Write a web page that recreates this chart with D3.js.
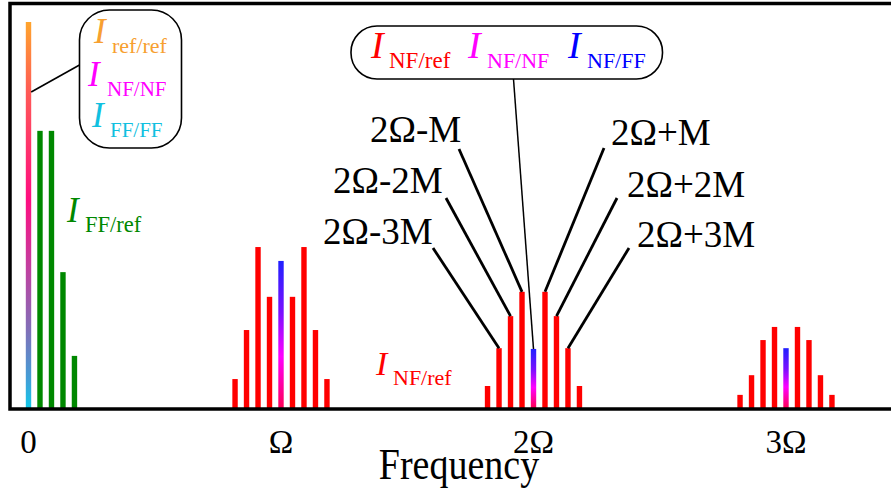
<!DOCTYPE html>
<html>
<head>
<meta charset="utf-8">
<script src="https://cdn.jsdelivr.net/npm/d3@7"></script>
<style>
  body { margin: 0; background: #fff; }
  svg text { font-family: "Liberation Serif", Times, "Times New Roman", "DejaVu Serif", serif; }
</style>
</head>
<body>
<svg width="891" height="499"></svg>
<script>
// harmonics of the modulation frequency (units of Omega)
var harmonics = [1, 2, 3];
// sideband spacing M, in units of Omega
var M = 0.0455;
var orders = [-4, -3, -2, -1, 0, 1, 2, 3, 4];

// I_NF/ref sidebands around each harmonic (centre = NF/NF + NF/FF)
var nfRef1 = [0.075, 0.202, 0.417, 0.288, 0.381, 0.288, 0.417, 0.202, 0.075];
var nfRef2 = [0.057, 0.155, 0.238, 0.301, 0.153, 0.301, 0.238, 0.155, 0.057];
var nfRef3 = [0.034, 0.085, 0.176, 0.210, 0.155, 0.210, 0.176, 0.085, 0.034];

// DC part
var refDC = 1.0;
var ffOrders = [1, 2, 3, 4];
var ffRef = [0.718, 0.718, 0.352, 0.135];

var tickValues = [0, 1, 2, 3];
var tickLabels = ["0", "\u03A9", "2\u03A9", "3\u03A9"];

var sideOrders = [-3, -2, -1, 1, 2, 3];
var sideLabels = ["2\u03A9-3M", "2\u03A9-2M", "2\u03A9-M", "2\u03A9+M", "2\u03A9+2M", "2\u03A9+3M"];

var serif = "'Liberation Serif', Times, 'Times New Roman', 'DejaVu Serif', serif";

var svg = d3.select("svg");

var x = d3.scaleLinear().domain([0, 3]).range([28.5, 786]);
var y = d3.scaleLinear().domain([0, 1]).range([408, 22]);
var barW = 5.4;

// gradients
var defs = svg.append("defs");
var g1 = defs.append("linearGradient").attr("id", "dcGrad")
    .attr("x1", 0).attr("y1", 0).attr("x2", 0).attr("y2", 1);
[[0, "#ffa52c"], [0.18, "#ff5a55"], [0.46, "#ff0d80"], [0.64, "#c040a0"],
 [0.8, "#8070b8"], [0.93, "#40a0d8"], [1, "#10c8e8"]].forEach(function(s) {
    g1.append("stop").attr("offset", s[0]).attr("stop-color", s[1]);
});
var g2 = defs.append("linearGradient").attr("id", "ctrGrad")
    .attr("x1", 0).attr("y1", 0).attr("x2", 0).attr("y2", 1);
[[0, "#2020ff"], [0.35, "#7a10ff"], [0.65, "#ff00ff"], [1, "#ff0055"]].forEach(function(s) {
    g2.append("stop").attr("offset", s[0]).attr("stop-color", s[1]);
});

// sideband bars
var clusters = [nfRef1, nfRef2, nfRef3];
var barData = [];
clusters.forEach(function(vals, h) {
    orders.forEach(function(k, i) {
        barData.push({ f: harmonics[h] + k * M, v: vals[i], centre: k === 0 });
    });
});

svg.selectAll(".nf").data(barData).enter().append("rect")
    .attr("class", "nf")
    .attr("x", function(d) { return x(d.f) - barW / 2; })
    .attr("y", function(d) { return y(d.v); })
    .attr("width", barW)
    .attr("height", function(d) { return y(0) - y(d.v); })
    .style("fill", function(d) { return d.centre ? "url(#ctrGrad)" : "#ff0000"; });

// DC bar and FF/ref bars
svg.append("rect")
    .attr("x", x(0) - barW / 2).attr("y", y(refDC))
    .attr("width", barW).attr("height", y(0) - y(refDC))
    .style("fill", "url(#dcGrad)");

svg.selectAll(".ff").data(ffOrders).enter().append("rect")
    .attr("class", "ff")
    .attr("x", function(d) { return x(d * M) - barW / 2; })
    .attr("y", function(d, i) { return y(ffRef[i]); })
    .attr("width", barW)
    .attr("height", function(d, i) { return y(0) - y(ffRef[i]); })
    .style("fill", "#008800");

// frame
svg.append("rect")
    .attr("x", 10).attr("y", 3.5).attr("width", 920).attr("height", 405.5)
    .style("fill", "none").style("stroke", "#000").style("stroke-width", 3.5);

// tick labels
svg.selectAll(".tick").data(tickValues).enter().append("text")
    .attr("x", function(d) { return x(d); })
    .attr("y", 453)
    .attr("text-anchor", "middle")
    .style("font-family", serif)
    .style("font-size", "33px")
    .text(function(d, i) { return tickLabels[i]; });

// axis title, a little taller than wide as in the source figure
svg.append("text")
    .attr("transform", "translate(459,479) scale(1,1.15)")
    .attr("text-anchor", "middle")
    .style("font-family", serif)
    .style("font-size", "38px")
    .text("Frequency");

// I with subscript
function ilabel(px, py, sub, subX, color, size, subSize) {
    svg.append("text").attr("x", px).attr("y", py)
        .style("font-family", serif)
        .style("font-size", size + "px").style("font-style", "italic")
        .style("fill", color).text("I");
    svg.append("text").attr("x", subX).attr("y", py + 10)
        .style("font-family", serif)
        .style("font-size", subSize + "px")
        .style("fill", color).text(sub);
}

// left callout
svg.append("rect").attr("x", 79.5).attr("y", 10).attr("width", 102).attr("height", 138)
    .attr("rx", 30).attr("ry", 30)
    .style("fill", "none").style("stroke", "#000").style("stroke-width", 1.6);
svg.append("line").attr("x1", 79.5).attr("y1", 65)
    .attr("x2", x(0) + barW / 2).attr("y2", 92)
    .style("stroke", "#000").style("stroke-width", 1.6);
ilabel(94, 43, "ref/ref", 112, "#f7a030", 35, 22);
ilabel(88, 86, "NF/NF", 107, "#ff00ff", 35, 21);
ilabel(92, 127, "FF/FF", 110, "#10c0e0", 35, 21);

ilabel(67, 222, "FF/ref", 85, "#008800", 35, 22.5);
ilabel(376, 375, "NF/ref", 393, "#ff0000", 34, 22);

// top callout
svg.append("rect").attr("x", 351).attr("y", 26).attr("width", 311.5).attr("height", 53)
    .attr("rx", 26).attr("ry", 26)
    .style("fill", "none").style("stroke", "#000").style("stroke-width", 1.6);
svg.append("line").attr("x1", 513.5).attr("y1", 79)
    .attr("x2", x(2)).attr("y2", y(nfRef2[4]))
    .style("stroke", "#000").style("stroke-width", 1.5);
ilabel(371, 58, "NF/ref", 389, "#ff0000", 38, 23);
ilabel(468, 58, "NF/NF", 487, "#ff00ff", 38, 22);
ilabel(568, 58, "NF/FF", 587, "#0000ff", 38, 22);

// sideband labels and leaders
var labelPos = [[323, 244], [333, 193], [370, 142], [611, 145], [627, 197], [637, 247]];
var leaderStart = [[433, 248], [446, 198], [459, 149], [604, 148], [617, 198], [629, 248]];

svg.selectAll(".sbl").data(sideOrders).enter().append("text")
    .attr("class", "sbl")
    .attr("x", function(d, i) { return labelPos[i][0]; })
    .attr("y", function(d, i) { return labelPos[i][1]; })
    .style("font-family", serif)
    .style("font-size", "37px")
    .text(function(d, i) { return sideLabels[i]; });

svg.selectAll(".sbline").data(sideOrders).enter().append("line")
    .attr("class", "sbline")
    .attr("x1", function(d, i) { return leaderStart[i][0]; })
    .attr("y1", function(d, i) { return leaderStart[i][1]; })
    .attr("x2", function(d) { return x(2 + d * M); })
    .attr("y2", function(d) { return y(nfRef2[orders.indexOf(d)]); })
    .style("stroke", "#000").style("stroke-width", 2.8);
</script>
</body>
</html>
